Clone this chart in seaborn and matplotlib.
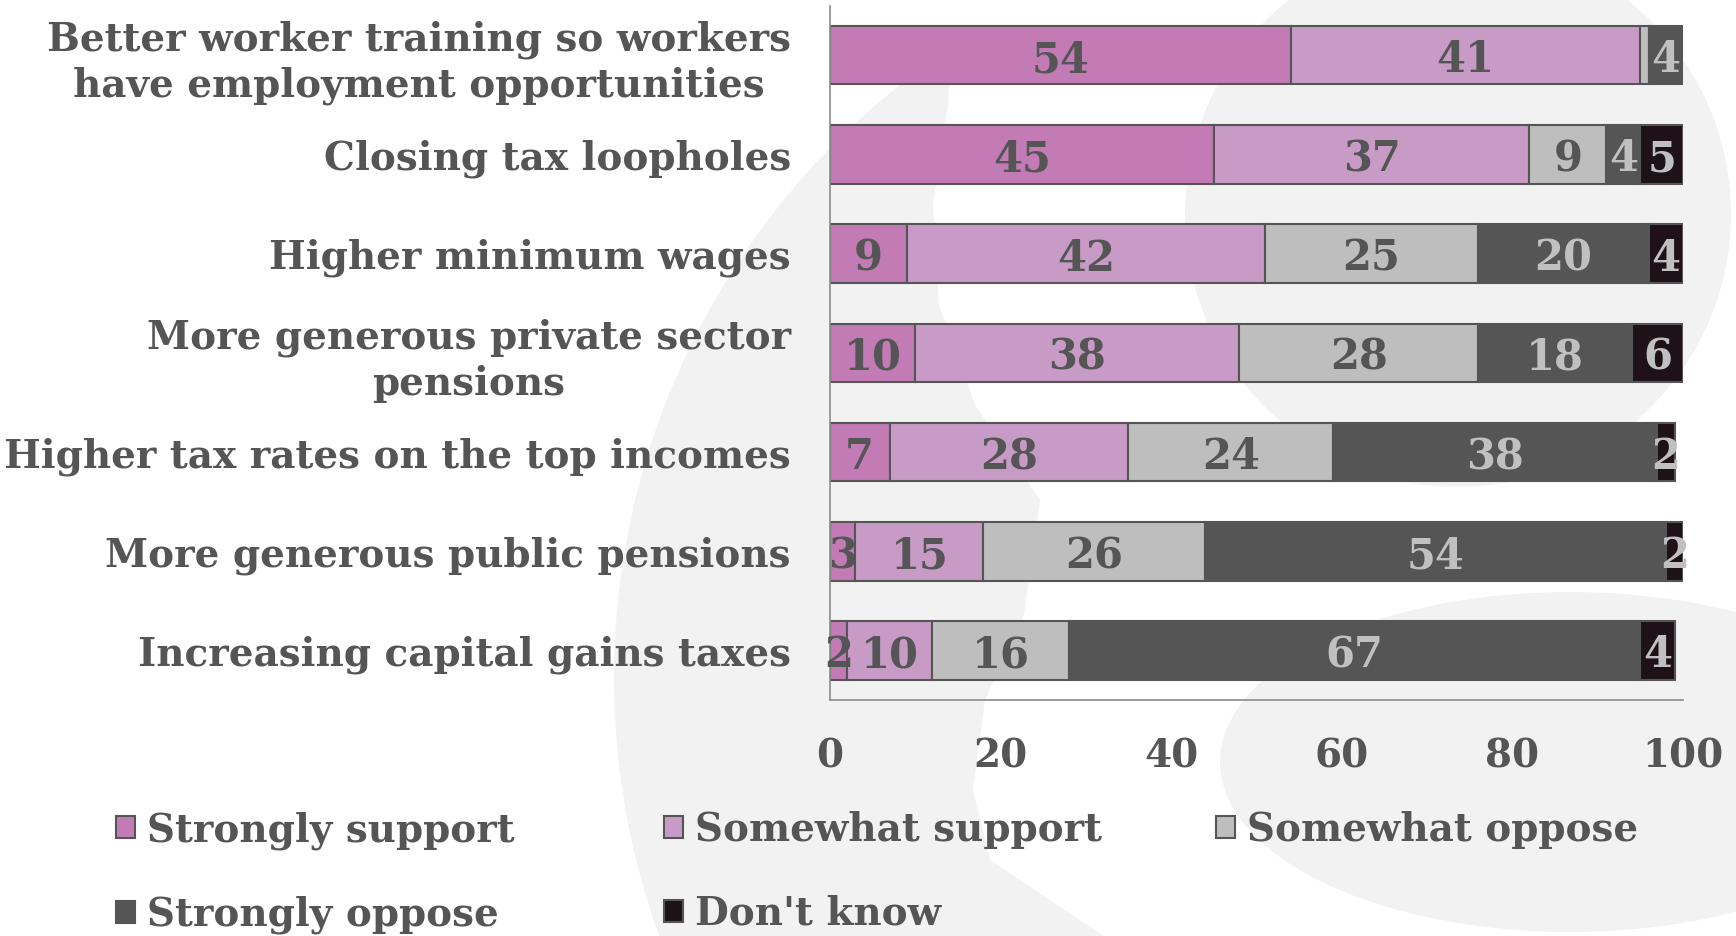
import numpy as np
import matplotlib
matplotlib.use("Agg")
import matplotlib.pyplot as plt
import seaborn as sns
from matplotlib.patches import Patch, Circle, Ellipse, Polygon

categories = [
    "Better worker training so workers\nhave employment opportunities",
    "Closing tax loopholes",
    "Higher minimum wages",
    "More generous private sector\npensions",
    "Higher tax rates on the top incomes",
    "More generous public pensions",
    "Increasing capital gains taxes",
]
series = ["Strongly support", "Somewhat support", "Somewhat oppose", "Strongly oppose", "Don't know"]
strongly_support = [54, 45, 9, 10, 7, 3, 2]
somewhat_support = [41, 37, 42, 38, 28, 15, 10]
somewhat_oppose = [1, 9, 25, 28, 24, 26, 16]
strongly_oppose = [4, 4, 20, 18, 38, 54, 67]
dont_know = [0, 5, 4, 6, 2, 2, 4]
x_ticks = [0, 20, 40, 60, 80, 100]

colors = ["#C27BB5", "#C89BC6", "#BFBEBF", "#555555", "#1E1218"]
label_colors = ["#555555", "#555555", "#555555", "#C0C0C0", "#C0C0C0"]
grey = "#555555"
wm = "#F2F2F2"

sns.set_style("white")
plt.rcParams["font.family"] = ["DejaVu Serif"]
plt.rcParams["font.weight"] = "bold"

fig = plt.figure(figsize=(17.36, 9.36), dpi=100)

# light watermark in the background (pixel coords)
bg = fig.add_axes([0, 0, 1, 1], zorder=-1)
bg.set_xlim(0, 1736)
bg.set_ylim(936, 0)
bg.axis("off")
bg.add_patch(Circle((1372, 678), 758, color=wm, lw=0))
bg.add_patch(Polygon([(952, -10), (948, 105), (933, 205), (939, 305), (975, 405), (1040, 500),
                      (1024, 614), (985, 700), (973, 790), (990, 860), (1117, 945),
                      (1745, 945), (1745, -10)], closed=True, color="white", lw=0))
bg.add_patch(Circle((1458, 214), 273, color=wm, lw=0))
bg.add_patch(Ellipse((1570, 762), 700, 340, color=wm, lw=0))

ax = fig.add_axes([0.478, 0.252, 0.4915, 0.742])

data = [strongly_support, somewhat_support, somewhat_oppose, strongly_oppose, dont_know]
y = np.arange(len(categories))
left = np.zeros(len(categories))
for k, (vals, col, lc) in enumerate(zip(data, colors, label_colors)):
    vals = np.array(vals, dtype=float)
    ax.barh(y, vals, left=left, height=0.59, color=col, edgecolor=grey, linewidth=1.5, zorder=2)
    for yi, (l, v) in enumerate(zip(left, vals)):
        if v > 0:
            # very thin segments get their label tucked under the next segment
            z = 1.5 if v < 2 else 5
            ax.text(l + v / 2, yi + 0.05, f"{int(v)}", ha="center", va="center",
                    fontsize=30, fontweight="bold", color=lc, zorder=z)
    left += vals

ax.set_ylim(len(categories) - 0.5, -0.5)
ax.set_xlim(0, 100)
ax.set_yticks(y)
ax.set_yticklabels(categories, fontsize=28, fontweight="bold", color=grey,
                   multialignment="center", linespacing=1.25)
ax.set_yticks(np.arange(-0.5, len(categories)), minor=True)
ax.tick_params(axis="y", which="major", length=0, pad=28)
ax.tick_params(axis="y", which="minor", length=8, color="#8C8C8C", width=1.2)
ax.set_xticks(x_ticks)
ax.set_xticklabels([str(t) for t in x_ticks], fontsize=28, fontweight="bold", color=grey)
ax.tick_params(axis="x", length=8, color="#8C8C8C", width=1.2, pad=19, direction="out")
for s in ["top", "right"]:
    ax.spines[s].set_visible(False)
for s in ["left", "bottom"]:
    ax.spines[s].set_color("#8C8C8C")
    ax.spines[s].set_linewidth(1.2)
ax.set_facecolor("none")

handles = [Patch(facecolor=c, edgecolor=grey, linewidth=1.5, label=s) for c, s in zip(colors, series)]
columns = [[0, 3], [1, 4], [2]]
col_x = [116 / 1736, 664 / 1736, 1216 / 1736]
for idx, cx in zip(columns, col_x):
    leg = fig.legend([handles[i] for i in idx], [series[i] for i in idx], ncol=1,
                     loc="upper left", bbox_to_anchor=(cx, 0.1335), frameon=False,
                     fontsize=28, handlelength=0.5, handleheight=0.5, handletextpad=0.3,
                     labelspacing=1.18, borderaxespad=0, borderpad=0)
    for t in leg.get_texts():
        t.set_color(grey)
        t.set_fontweight("bold")

fig.savefig("out.png", dpi=100, facecolor="white")
